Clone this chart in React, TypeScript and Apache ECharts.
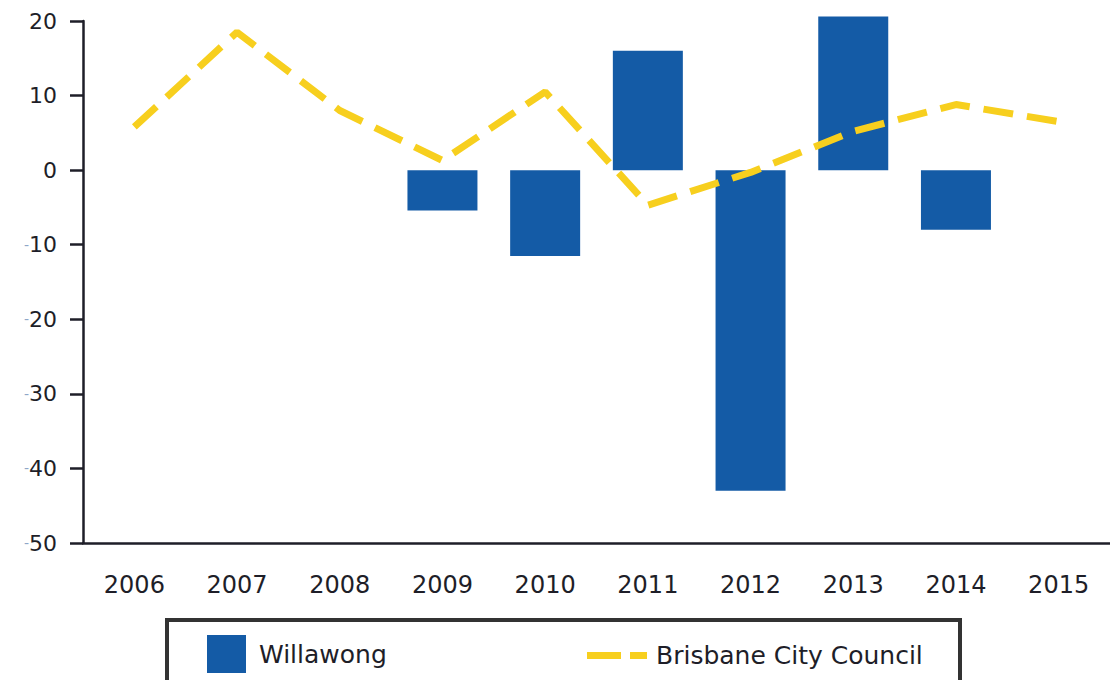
import React, { useEffect, useRef } from "react";
import * as echarts from "echarts";

const years = ["2006", "2007", "2008", "2009", "2010", "2011", "2012", "2013", "2014", "2015"];
const willawong: (number | null)[] = [null, null, null, -5.4, -11.5, 16, -43, 20.6, -8, null];
const brisbane: number[] = [5.8, 18.5, 8.0, 1.3, 10.5, -4.7, -0.3, 5.2, 8.8, 6.5];
const yTicks = { min: -50, max: 20, interval: 10 };

const FONT = "DejaVu Sans";
const TEXT = "#1e1e28";
const BLUE = "#145ba6";
const YELLOW = "#f7cf1e";

export default function App() {
  const ref = useRef<HTMLDivElement>(null);
  useEffect(() => {
    if (!ref.current) return;
    const chart = echarts.init(ref.current, undefined, { renderer: "svg" });
    chart.setOption({
      animation: false,
      backgroundColor: "#ffffff",
      grid: { left: 83, top: 21, width: 1030, height: 522, containLabel: false },
      xAxis: {
        type: "category",
        data: years,
        boundaryGap: true,
        axisLine: { onZero: false, lineStyle: { color: TEXT, width: 2.5 } },
        axisTick: { alignWithLabel: true, length: 12, lineStyle: { color: TEXT, width: 2.5 } },
        axisLabel: { fontFamily: FONT, fontSize: 24, color: TEXT, margin: 30 },
        splitLine: { show: false },
      },
      yAxis: {
        type: "value",
        min: yTicks.min,
        max: yTicks.max,
        interval: yTicks.interval,
        axisLine: { show: true, lineStyle: { color: TEXT, width: 2.5 } },
        axisTick: { show: true, length: 13, lineStyle: { color: TEXT, width: 2.5 } },
        splitLine: { show: false },
        axisLabel: {
          margin: 26,
          fontFamily: FONT,
          fontSize: 22,
          color: TEXT,
          formatter: (v: number) => (v < 0 ? "{m|-}" + Math.abs(v) : String(v)),
          rich: { m: { fontFamily: FONT, fontSize: 14, color: "#8ea6c8" } },
        },
      },
      legend: [
        {
          data: [{ name: "Willawong", icon: "rect" }],
          left: 207,
          top: 635,
          itemWidth: 39,
          itemHeight: 38,
          padding: 0,
          textStyle: { fontFamily: FONT, fontSize: 25, color: TEXT, padding: [0, 0, 0, 8] },
        },
        {
          data: [
            {
              name: "Brisbane City Council",
              icon: "path://M0,0H34V7H0Z M43,0H60V7H43Z",
              itemStyle: { color: YELLOW },
            },
          ],
          left: 587,
          top: 643,
          itemWidth: 60,
          itemHeight: 7,
          padding: 0,
          textStyle: { fontFamily: FONT, fontSize: 25, color: TEXT, padding: [0, 0, 0, 4] },
        },
      ],
      graphic: [
        {
          type: "rect",
          shape: { x: 167, y: 620, width: 793, height: 80 },
          style: { fill: "none", stroke: "#333333", lineWidth: 4 },
          z: -1,
        },
      ],
      series: [
        {
          name: "Willawong",
          type: "bar",
          data: willawong,
          barWidth: 70,
          clip: false,
          itemStyle: { color: BLUE },
        },
        {
          name: "Brisbane City Council",
          type: "line",
          data: brisbane,
          symbol: "none",
          showSymbol: false,
          z: 5,
          lineStyle: { color: YELLOW, width: 7, type: [30, 14], cap: "butt" },
          itemStyle: { color: YELLOW },
        },
      ],
    });
    return () => chart.dispose();
  }, []);
  return (
    <div
      ref={ref}
      style={{ position: "fixed", left: 0, top: 0, width: 1110, height: 680, background: "#fff" }}
    />
  );
}
